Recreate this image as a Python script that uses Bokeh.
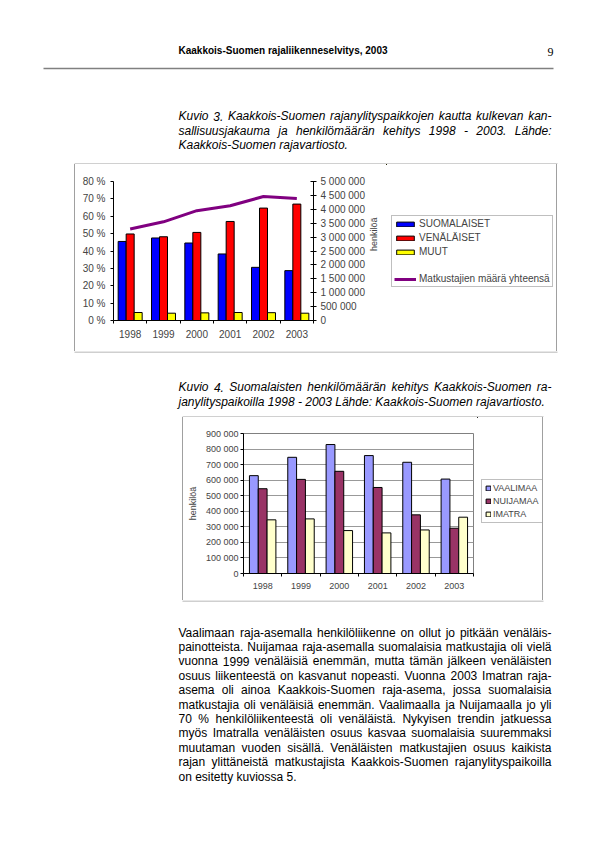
import math
from bokeh.plotting import figure
from bokeh.models import (Range1d, LinearAxis, FixedTicker, Legend, LegendItem,
                          ColumnDataSource)
from bokeh.layouts import column, row
from bokeh.transform import dodge
from bokeh.core.properties import value
from bokeh.embed import file_html
from bokeh.resources import INLINE

# ---------------- data ----------------
years = ["1998", "1999", "2000", "2001", "2002", "2003"]

# Kuvio 3 (shares in %, total travellers)
suomalaiset_pct = [45.5, 47.5, 44.6, 38.3, 30.6, 28.7]
venalaiset_pct = [49.8, 48.2, 50.7, 57.0, 64.7, 67.0]
muut_pct = [4.6, 4.2, 4.4, 4.6, 4.5, 4.2]
matkustajat_yht = [3290000, 3550000, 3950000, 4130000, 4460000, 4390000]
pct_ticks = [0, 10, 20, 30, 40, 50, 60, 70, 80]
henk_ticks = [0, 500000, 1000000, 1500000, 2000000, 2500000, 3000000,
              3500000, 4000000, 4500000, 5000000]
series1 = ["SUOMALAISET", "VENÄLÄISET", "MUUT"]
line1_name = "Matkustajien määrä yhteensä"

# Kuvio 4 (Finnish travellers per crossing point)
vaalimaa = [629000, 747000, 829000, 758000, 715000, 607000]
nuijamaa = [545000, 605000, 657000, 553000, 377000, 291000]
imatra = [345000, 351000, 276000, 261000, 280000, 362000]
henk2_ticks = [0, 100000, 200000, 300000, 400000, 500000, 600000,
               700000, 800000, 900000]
series2 = ["VAALIMAA", "NUIJAMAA", "IMATRA"]

header_text = "Kaakkois-Suomen rajaliikenneselvitys, 2003"
page_no = "9"
caption3 = ["Kuvio 3. Kaakkois-Suomen rajanylityspaikkojen kautta kulkevan kan-",
            "sallisuusjakauma ja henkilömäärän kehitys 1998 - 2003. Lähde:",
            "Kaakkois-Suomen rajavartiosto."]
caption4 = ["Kuvio 4. Suomalaisten henkilömäärän kehitys Kaakkois-Suomen ra-",
            "janylityspaikoilla 1998 - 2003 Lähde: Kaakkois-Suomen rajavartiosto."]
body = ["Vaalimaan raja-asemalla henkilöliikenne on ollut jo pitkään venäläis-",
        "painotteista. Nuijamaa raja-asemalla suomalaisia matkustajia oli vielä",
        "vuonna 1999 venäläisiä enemmän, mutta tämän jälkeen venäläisten",
        "osuus liikenteestä on kasvanut nopeasti. Vuonna 2003 Imatran raja-",
        "asema oli ainoa Kaakkois-Suomen raja-asema, jossa suomalaisia",
        "matkustajia oli venäläisiä enemmän. Vaalimaalla ja Nuijamaalla jo yli",
        "70 % henkilöliikenteestä oli venäläistä. Nykyisen trendin jatkuessa",
        "myös Imatralla venäläisten osuus kasvaa suomalaisia suuremmaksi",
        "muutaman vuoden sisällä. Venäläisten matkustajien osuus kaikista",
        "rajan ylittäneistä matkustajista Kaakkois-Suomen rajanylityspaikoilla",
        "on esitetty kuviossa 5."]

SANS = "Liberation Sans"
BOX = "#a0a0a0"
COLORS1 = ["#0000ff", "#ff0000", "#ffff00"]
LINE1 = "#800080"
COLORS2 = ["#9999ff", "#993366", "#ffffcc"]

# ---------------- text helpers ----------------
CW = {}
for c, w in zip("abcdefghijklmnopqrstuvwxyz",
                [556, 556, 500, 556, 556, 278, 556, 556, 222, 222, 500, 222, 833,
                 556, 556, 556, 556, 333, 500, 278, 556, 500, 722, 500, 500, 500]):
    CW[c] = w
for c, w in zip("ABCDEFGHIJKLMNOPQRSTUVWXYZ",
                [667, 667, 722, 722, 667, 611, 778, 722, 278, 500, 667, 556, 833,
                 722, 778, 667, 778, 722, 667, 611, 722, 667, 944, 667, 667, 611]):
    CW[c] = w
for c in "0123456789":
    CW[c] = 556
CW.update({" ": 278, ".": 278, ",": 278, "-": 333, "%": 889, ":": 278,
           "ä": 556, "ö": 556, "Ä": 667, "Ö": 778})


def tw(s, size):
    return sum(CW.get(c, 556) for c in s) * size / 1000.0


def no_align(p):
    try:
        p.frame_align = False
    except AttributeError:
        pass


def page_fig(w, h, x_left, y_top):
    p = figure(width=w, height=h, x_range=Range1d(x_left, x_left + w),
               y_range=Range1d(y_top + h, y_top), output_backend="svg",
               toolbar_location=None, x_axis_type=None, y_axis_type=None,
               min_border=0, outline_line_color=None,
               background_fill_color="white", border_fill_color="white")
    no_align(p)
    return p


def add_para(p, lines, x0, x1, y0, dy, size, style):
    L = dict(x=[], y=[], t=[])
    R = dict(x=[], y=[], t=[])
    for i, line in enumerate(lines):
        y = y0 + i * dy
        words = line.split(" ")
        if i == len(lines) - 1 or len(words) < 2:
            L["x"].append(x0); L["y"].append(y); L["t"].append(line)
            continue
        widths = [tw(w, size) for w in words]
        gap = (x1 - x0 - sum(widths)) / (len(words) - 1)
        x = x0
        for w, wd in zip(words[:-1], widths[:-1]):
            L["x"].append(x); L["y"].append(y); L["t"].append(w)
            x += wd + gap
        R["x"].append(x1); R["y"].append(y); R["t"].append(words[-1])
    common = dict(text_font=value(SANS), text_font_size=f"{size}px",
                  text_font_style=style, text_color="black",
                  text_baseline="alphabetic")
    p.text(x="x", y="y", text="t", source=ColumnDataSource(L),
           text_align="left", **common)
    if R["x"]:
        p.text(x="x", y="y", text="t", source=ColumnDataSource(R),
               text_align="right", **common)


TX0, TX1 = 178, 551
LEFT_EDGE = {"box-shadow": f"-1px 0 0 0 {BOX}"}
RIGHT_EDGE = {"box-shadow": f"1px 0 0 0 {BOX}"}

# ---------------- top text block ----------------
top = page_fig(595, 164, 0, 0)
top.text(x=[178], y=[50], text=[header_text], text_font=value(SANS),
         text_font_size="10px", text_font_style="bold", text_baseline="alphabetic")
top.text(x=[553], y=[51], text=[page_no], text_font=value("Liberation Serif"),
         text_font_size="12px", text_align="right", text_baseline="alphabetic")
top.segment(x0=[43], y0=[68], x1=[553], y1=[68], line_color="#808080",
            line_width=1.5)
add_para(top, caption3, TX0, TX1, 115.5, 14.5, 12, "italic")
top.segment(x0=[74], y0=[163.5], x1=[557], y1=[163.5], line_color=BOX, line_width=1)

# ---------------- chart 1 ----------------
x_idx = list(range(len(years)))
src1 = ColumnDataSource(dict(x=x_idx, suo=suomalaiset_pct, ven=venalaiset_pct,
                             muu=muut_pct, tot=matkustajat_yht))
p1 = figure(width=311, height=187, x_range=Range1d(-0.5, len(years) - 0.5),
            y_range=Range1d(0, 80), output_backend="svg", toolbar_location=None,
            margin=(0, 0, 0, 75), min_border_left=38, min_border_right=71,
            min_border_top=17, min_border_bottom=31,
            background_fill_color="white", border_fill_color="white")
no_align(p1)
p1.styles = LEFT_EDGE
p1.extra_y_ranges = {"tot": Range1d(0, 5000000)}
p1.outline_line_color = None
p1.grid.visible = False

bw = 0.24
fields1 = ["suo", "ven", "muu"]
for off, fld, col in zip([-bw, 0, bw], fields1, COLORS1):
    p1.vbar(x=dodge("x", off), top=fld, width=bw, source=src1,
            fill_color=col, line_color="black", line_width=1)
p1.line(x="x", y="tot", source=src1, y_range_name="tot",
        line_color=LINE1, line_width=3)

xa = p1.below[0]
xa.ticker = FixedTicker(ticks=x_idx,
                        minor_ticks=[i - 0.5 for i in range(len(years) + 1)])
xa.major_label_overrides = {i: y for i, y in enumerate(years)}
xa.major_tick_in = 0
xa.major_tick_out = 0
xa.minor_tick_in = 0
xa.minor_tick_out = 3
xa.minor_tick_line_color = "black"
xa.major_label_standoff = 6
xa.major_label_text_font = SANS
xa.major_label_text_font_size = "10px"
xa.axis_line_color = "black"

ya = p1.left[0]
ya.ticker = FixedTicker(ticks=pct_ticks)
ya.major_label_overrides = {t: f"{t} %" for t in pct_ticks}
ya.major_tick_in = 0
ya.major_tick_out = 3
ya.minor_tick_line_color = None
ya.major_label_standoff = 5
ya.major_label_text_font = SANS
ya.major_label_text_font_size = "10px"

ra = LinearAxis(y_range_name="tot", ticker=FixedTicker(ticks=henk_ticks),
                axis_label="henkilöä")
ra.major_label_overrides = {t: f"{t:,}".replace(",", " ") for t in henk_ticks}
ra.major_tick_in = 3
ra.major_tick_out = 3
ra.minor_tick_line_color = None
ra.major_label_standoff = 4
ra.major_label_text_font = SANS
ra.major_label_text_font_size = "10px"
ra.axis_label_text_font = SANS
ra.axis_label_text_font_size = "9px"
ra.axis_label_text_font_style = "normal"
ra.axis_label_standoff = 6
try:
    ra.axis_label_orientation = math.pi / 2
except AttributeError:
    pass
p1.add_layout(ra, "right")

# legend panel of chart 1: same series mapped onto off-canvas ranges,
# so that only their legend entries show
lg1 = page_fig(170, 187, 386, 164)
lg1.styles = RIGHT_EDGE
lg1.extra_x_ranges = {"off": Range1d(100, 200)}
lg1.extra_y_ranges = {"off": Range1d(-2e7, -1e7)}
items1 = []
for fld, name, col in zip(fields1, series1, COLORS1):
    r = lg1.vbar(x="x", top=fld, width=bw, source=src1, fill_color=col,
                 line_color="black", line_width=1,
                 x_range_name="off", y_range_name="off")
    items1.append(LegendItem(label=name, renderers=[r]))
r_blank = lg1.line(x=[], y=[], line_alpha=0)
items1.append(LegendItem(label=" ", renderers=[r_blank]))
r_l = lg1.line(x="x", y="tot", source=src1, line_color=LINE1, line_width=3,
               x_range_name="off", y_range_name="off")
items1.append(LegendItem(label=line1_name, renderers=[r_l]))
leg1 = Legend(items=items1, location=(5, 64), orientation="vertical",
              border_line_color="#808080", border_line_width=1,
              background_fill_color="white", glyph_width=22, glyph_height=6,
              label_text_font=SANS, label_text_font_size="10px",
              label_height=10, spacing=3, padding=2, margin=0,
              label_standoff=3)
lg1.add_layout(leg1)

# ---------------- middle text ----------------
mid = page_fig(595, 66, 0, 351)
mid.segment(x0=[74], y0=[351.5], x1=[557], y1=[351.5], line_color=BOX, line_width=1)
add_para(mid, caption4, TX0, TX1, 386.7, 14.5, 12, "italic")
mid.segment(x0=[182], y0=[416.5], x1=[543], y1=[416.5], line_color=BOX, line_width=1)

# ---------------- chart 2 ----------------
src2 = ColumnDataSource(dict(x=x_idx, va=vaalimaa, nu=nuijamaa, im=imatra))
p2 = figure(width=294, height=183, x_range=Range1d(-0.5, len(years) - 0.5),
            y_range=Range1d(0, 900000), output_backend="svg",
            toolbar_location=None, margin=(0, 0, 0, 183),
            min_border_left=60, min_border_right=4, min_border_top=16,
            min_border_bottom=27, background_fill_color="white",
            border_fill_color="white")
no_align(p2)
p2.styles = LEFT_EDGE
p2.outline_line_color = "#808080"
p2.xgrid.visible = False
p2.ygrid.ticker = FixedTicker(ticks=henk2_ticks)
p2.ygrid.grid_line_color = "#999999"

bw2 = 0.23
fields2 = ["va", "nu", "im"]
for off, fld, col in zip([-bw2, 0, bw2], fields2, COLORS2):
    p2.vbar(x=dodge("x", off), top=fld, width=bw2, source=src2,
            fill_color=col, line_color="black", line_width=1)

xb = p2.below[0]
xb.ticker = FixedTicker(ticks=x_idx,
                        minor_ticks=[i - 0.5 for i in range(len(years) + 1)])
xb.major_label_overrides = {i: y for i, y in enumerate(years)}
xb.major_tick_in = 0
xb.major_tick_out = 0
xb.minor_tick_in = 0
xb.minor_tick_out = 3
xb.minor_tick_line_color = "black"
xb.major_label_standoff = 6
xb.major_label_text_font = SANS
xb.major_label_text_font_size = "9px"

yb = p2.left[0]
yb.ticker = FixedTicker(ticks=henk2_ticks)
yb.major_label_overrides = {t: f"{t:,}".replace(",", " ") for t in henk2_ticks}
yb.major_tick_in = 0
yb.major_tick_out = 3
yb.minor_tick_line_color = None
yb.major_label_standoff = 2
yb.major_label_text_font = SANS
yb.major_label_text_font_size = "9px"
yb.axis_label = "henkilöä"
yb.axis_label_text_font = SANS
yb.axis_label_text_font_size = "9px"
yb.axis_label_text_font_style = "normal"
yb.axis_label_standoff = 5

lg2 = page_fig(65, 183, 477, 417)
lg2.styles = RIGHT_EDGE
lg2.extra_x_ranges = {"off": Range1d(100, 200)}
lg2.extra_y_ranges = {"off": Range1d(-2e7, -1e7)}
items2 = []
for fld, name, col in zip(fields2, series2, COLORS2):
    r = lg2.vbar(x="x", top=fld, width=bw2, source=src2, fill_color=col,
                 line_color="black", line_width=1,
                 x_range_name="off", y_range_name="off")
    items2.append(LegendItem(label=name, renderers=[r]))
leg2 = Legend(items=items2, location=(4, 77), orientation="vertical",
              border_line_color="#808080", border_line_width=1,
              background_fill_color="white", glyph_width=6, glyph_height=6,
              label_text_font=SANS, label_text_font_size="9px",
              label_height=10, spacing=3, padding=3, margin=0,
              label_standoff=2)
lg2.add_layout(leg2)

# ---------------- bottom text ----------------
bot = page_fig(595, 242, 0, 600)
bot.segment(x0=[182], y0=[600.5], x1=[543], y1=[600.5], line_color=BOX, line_width=1)
add_para(bot, body, TX0, TX1, 632, 14.4, 12, "normal")

page = column(top, row(p1, lg1, spacing=0), mid, row(p2, lg2, spacing=0), bot,
              spacing=0)
open("out.html", "w").write(file_html(page, INLINE))
